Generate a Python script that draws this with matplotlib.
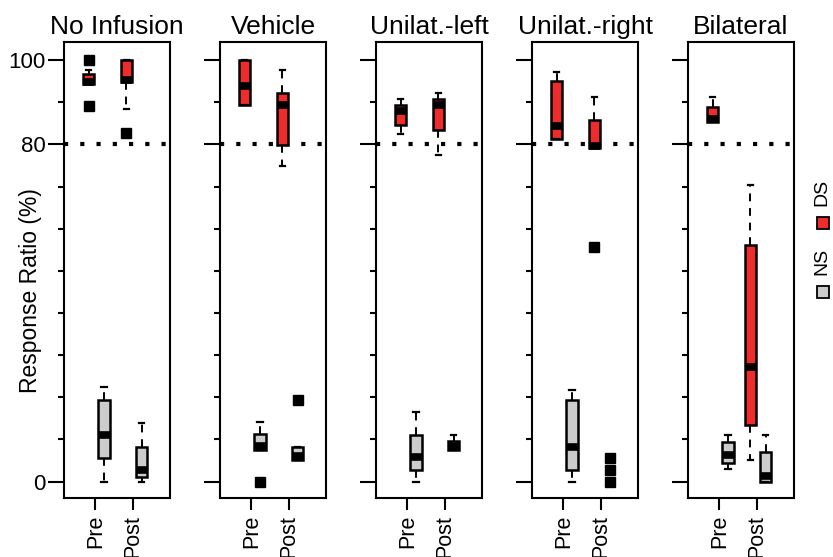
import matplotlib
matplotlib.use("Agg")
import matplotlib.pyplot as plt
from matplotlib.patches import Rectangle

plt.rcParams['font.family'] = ['Liberation Sans', 'DejaVu Sans']

# ---------------- data ----------------
panels = ["No Infusion", "Vehicle", "Unilat.-left", "Unilat.-right", "Bilateral"]
phases = ["Pre", "Post"]
groups = ["NS", "DS"]
group_colors = ["#CCCCCC", "#EE2C2C"]

# DS box statistics, per panel: [Pre, Post]
ds_whislo = [[94.3, 88.4], [89.3, 74.9], [82.4, 77.6], [81.4, 79.2], [85.2, 5.1]]
ds_q1 = [[94.3, 94.8], [89.3, 79.8], [84.7, 83.4], [81.4, 79.2], [85.2, 13.4]]
ds_med = [[94.7, 95.4], [93.8, 89.3], [87.9, 89.3], [84.4, 79.6], [86.0, 27.2]]
ds_q3 = [[96.8, 100.0], [100.0, 92.2], [89.3, 90.7], [95.1, 85.9], [88.9, 56.1]]
ds_whishi = [[97.6, 100.0], [100.0, 97.6], [90.7, 92.2], [97.1, 91.3], [91.3, 70.4]]
ds_fliers = [[[100.0, 89.0], [82.6]], [[], []], [[], []], [[], [55.7]], [[], []]]

# NS box statistics, per panel: [Pre, Post]  (None = no box drawn)
ns_whislo = [[0.0, 0.0], [7.5, 5.2], [0.0, 7.4], [0.0, None], [2.9, 0.0]]
ns_q1 = [[5.7, 1.2], [7.5, 5.2], [2.8, 7.6], [2.8, None], [4.4, 0.0]]
ns_med = [[11.1, 2.7], [8.4, 6.0], [5.9, 8.4], [8.2, None], [6.3, 1.3]]
ns_q3 = [[19.4, 8.2], [11.2, 8.2], [11.1, 9.6], [19.4, None], [9.5, 6.9]]
ns_whishi = [[22.5, 14.0], [14.2, 8.2], [16.5, 11.1], [21.7, None], [11.1, 11.1]]
ns_fliers = [[[], []], [[0.0], [19.4]], [[], []], [[], [5.5, 2.8, 0.0]], [[], []]]

criterion = 80
major_yticks = [0, 80, 100]
minor_yticks = [10, 20, 30, 40, 50, 60, 70, 90]

series = {
    "NS": (ns_whislo, ns_q1, ns_med, ns_q3, ns_whishi, ns_fliers),
    "DS": (ds_whislo, ds_q1, ds_med, ds_q3, ds_whishi, ds_fliers),
}
offsets = {"NS": 0.23, "DS": -0.18}

# ---------------- figure ----------------
W, H = 833, 557
fig = plt.figure(figsize=(W / 100, H / 100), dpi=100)

flier_kw = dict(marker='s', markersize=7.5, markerfacecolor='black',
                markeredgecolor='black', linestyle='none')

for i, name in enumerate(panels):
    left = 64 + 156 * i
    ax = fig.add_axes([left / W, 1 - 498 / H, 106 / W, 456 / H])
    ax.axhline(criterion, color='black', lw=3, ls=(0, (1, 2.9)), zorder=1)

    for g, color in zip(groups, group_colors):
        wlo, q1, med, q3, whi, fl = series[g]
        stats, pos = [], []
        for j in range(len(phases)):
            x = j + 1 + offsets[g]
            if med[i][j] is None:
                if fl[i][j]:
                    ax.plot([x] * len(fl[i][j]), fl[i][j], zorder=4, **flier_kw)
                continue
            stats.append(dict(whislo=wlo[i][j], q1=q1[i][j], med=med[i][j],
                              q3=q3[i][j], whishi=whi[i][j], fliers=fl[i][j]))
            pos.append(x)
        if stats:
            ax.bxp(stats, positions=pos, widths=0.3, capwidths=0.14,
                   patch_artist=True, manage_ticks=False,
                   boxprops=dict(facecolor=color, edgecolor='black', linewidth=1.8, zorder=2),
                   medianprops=dict(color='black', linewidth=5.5,
                                    solid_capstyle='butt', zorder=3),
                   whiskerprops=dict(color='black', linewidth=1.4,
                                     linestyle=(0, (4, 3.5))),
                   capprops=dict(color='black', linewidth=1.6),
                   flierprops=flier_kw)

    ax.set_xlim(0.17, 2.98)
    ax.set_ylim(-3.9, 104.3)
    ax.set_yticks(major_yticks)
    ax.set_yticks(minor_yticks, minor=True)
    ax.set_xticks([1, 2])
    ax.set_xticklabels(phases, rotation=90, fontsize=15.5)
    ax.tick_params(axis='y', which='major', length=11.5, width=1.5,
                   labelsize=16, pad=1.5, labelleft=(i == 0))
    ax.tick_params(axis='y', which='minor', length=4.5, width=1.5)
    ax.tick_params(axis='x', length=8.5, width=1.5, pad=3.5)
    for sp in ax.spines.values():
        sp.set_linewidth(1.5)
    ax.set_title(name, fontsize=19, pad=6)

fig.text(31 / W, 1 - 291 / H, "Response Ratio (%)", rotation=90,
         ha='center', va='center', fontsize=16.5)

# legend (rotated, stacked bottom-to-top)
for k, (g, color) in enumerate(zip(groups, group_colors)):
    sq_y = 292 - 69 * k
    sz = 12
    fig.add_artist(Rectangle(((823 - sz / 2) / W, 1 - (sq_y + sz / 2) / H),
                             sz / W, sz / H, transform=fig.transFigure,
                             facecolor=color, edgecolor='black', linewidth=1.3))
    fig.text(822 / W, 1 - (sq_y - 31) / H, g, rotation=90,
             ha='center', va='center', fontsize=14)

fig.savefig("out.png", dpi=100)
